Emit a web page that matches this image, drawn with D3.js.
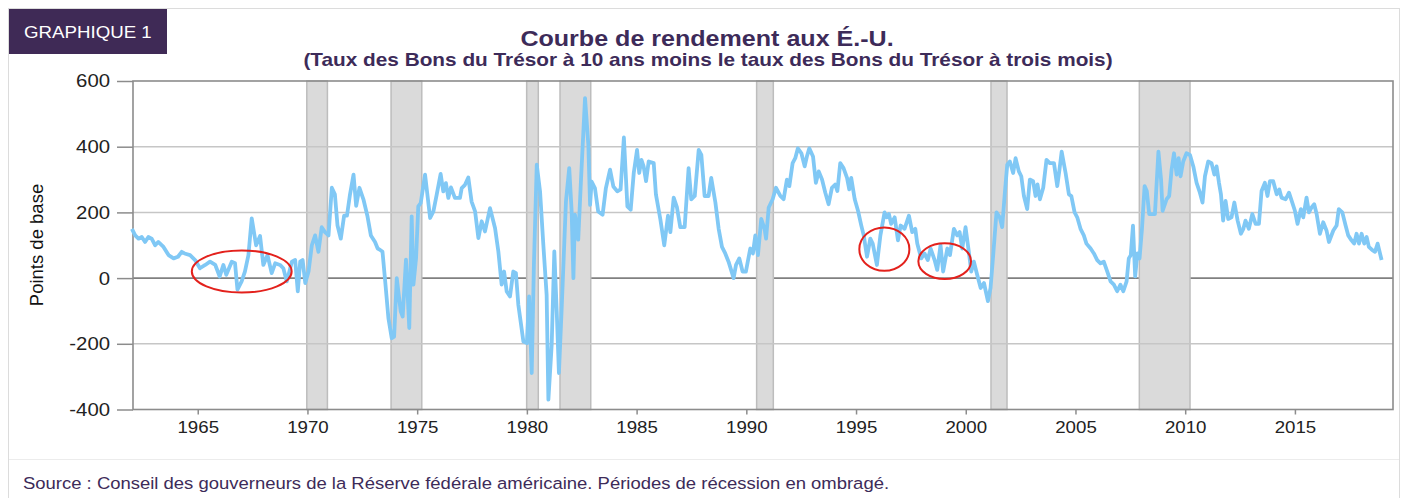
<!DOCTYPE html>
<html>
<head>
<meta charset="utf-8">
<script src="https://cdn.jsdelivr.net/npm/d3@7"></script>
<style>
  body { margin: 0; background: #fff; }
  text { font-family: "Liberation Sans", Arial, sans-serif; }
</style>
</head>
<body>
<svg id="chart" width="1408" height="498"></svg>
<script>
// valeurs (points de base)
const xTicks = [1965, 1970, 1975, 1980, 1985, 1990, 1995, 2000, 2005, 2010, 2015]
const yTicks = [-400, -200, 0, 200, 400, 600]

// périodes de récession (années décimales)
const recessions = [
  [1969.97, 1970.91], [1973.81, 1975.21], [1979.99, 1980.52], [1981.51, 1982.91],
  [1990.47, 1991.23], [2001.15, 2001.88], [2007.91, 2010.22]
]

// ellipses rouges : [année début, année fin, haut, bas]
const highlights = [
  [1964.73, 1969.28, 84, -44],
  [1995.15, 1997.43, 154, 22],
  [1997.84, 2000.24, 106, -3]
]

// écart 10 ans - 3 mois : [année, points de base]
const spread = [
  [1962.0,150],[1962.15,130],[1962.3,120],[1962.45,125],[1962.6,110],[1962.75,125],[1962.9,120],
  [1963.06,100],[1963.2,110],[1963.44,95],[1963.67,70],[1963.9,60],[1964.1,65],[1964.27,80],
  [1964.4,75],[1964.65,70],[1964.88,55],[1965.1,30],[1965.34,40],[1965.56,50],[1965.8,40],
  [1966.0,5],[1966.17,40],[1966.3,10],[1966.55,50],[1966.7,45],[1966.81,-35],[1967.0,-10],
  [1967.15,20],[1967.31,70],[1967.46,182],[1967.66,100],[1967.84,128],[1967.99,40],[1968.18,70],
  [1968.37,15],[1968.53,45],[1968.75,40],[1968.9,30],[1969.06,-10],[1969.29,50],[1969.44,55],
  [1969.56,-40],[1969.67,50],[1969.78,55],[1969.9,-15],[1970.05,20],[1970.2,100],[1970.35,130],
  [1970.5,80],[1970.65,155],[1970.8,140],[1970.96,130],[1971.11,275],[1971.25,255],[1971.37,160],
  [1971.52,120],[1971.67,190],[1971.8,190],[1971.94,255],[1972.1,315],[1972.22,220],[1972.37,275],
  [1972.55,240],[1972.73,190],[1972.89,130],[1973.08,110],[1973.2,90],[1973.31,86],[1973.42,80],
  [1973.53,0],[1973.69,-122],[1973.84,-183],[1973.95,-178],[1974.07,0],[1974.25,-101],[1974.34,-117],
  [1974.49,56],[1974.64,-152],[1974.75,188],[1974.83,-20],[1974.95,61],[1975.05,218],[1975.16,228],
  [1975.36,315],[1975.59,183],[1975.74,203],[1975.89,254],[1976.07,317],[1976.19,264],[1976.31,289],
  [1976.42,244],[1976.54,276],[1976.72,244],[1976.95,244],[1977.03,274],[1977.18,284],[1977.33,306],
  [1977.48,233],[1977.64,203],[1977.79,122],[1977.94,173],[1978.09,142],[1978.32,213],[1978.55,152],
  [1978.7,81],[1978.85,-20],[1978.96,20],[1979.08,-41],[1979.23,-56],[1979.38,20],[1979.5,15],
  [1979.61,-81],[1979.84,-193],[1980.0,-198],[1980.1,-56],[1980.22,-289],[1980.32,41],[1980.45,345],
  [1980.6,264],[1980.75,101],[1980.9,-51],[1980.98,-370],[1981.13,-203],[1981.25,81],[1981.36,-101],
  [1981.46,-289],[1981.58,-101],[1981.78,233],[1981.93,335],[1982.04,203],[1982.12,0],[1982.19,193],
  [1982.34,117],[1982.47,305],[1982.65,548],[1982.8,406],[1982.88,223],[1982.95,294],[1983.1,274],
  [1983.25,203],[1983.45,193],[1983.6,274],[1983.79,330],[1983.94,279],[1984.12,264],[1984.27,270],
  [1984.42,428],[1984.58,218],[1984.73,208],[1984.87,320],[1985.02,390],[1985.12,320],[1985.22,360],
  [1985.32,340],[1985.43,295],[1985.55,355],[1985.78,350],[1985.88,255],[1986.08,180],[1986.26,100],
  [1986.43,190],[1986.54,140],[1986.69,245],[1986.84,215],[1986.99,155],[1987.19,155],[1987.37,335],
  [1987.49,240],[1987.65,250],[1987.83,390],[1987.95,375],[1988.1,250],[1988.28,250],[1988.4,305],
  [1988.59,230],[1988.74,150],[1988.89,95],[1989.04,75],[1989.19,50],[1989.42,0],[1989.53,40],
  [1989.68,60],[1989.83,20],[1989.98,20],[1990.18,90],[1990.3,75],[1990.41,130],[1990.53,70],
  [1990.68,180],[1990.83,150],[1990.9,120],[1991.02,215],[1991.2,240],[1991.35,275],[1991.55,250],
  [1991.7,240],[1991.85,300],[1991.96,280],[1992.11,350],[1992.23,365],[1992.35,395],[1992.51,380],
  [1992.66,340],[1992.76,370],[1992.87,395],[1993.04,370],[1993.17,290],[1993.3,325],[1993.45,300],
  [1993.6,260],[1993.75,225],[1993.9,275],[1994.05,285],[1994.15,265],[1994.28,350],[1994.43,335],
  [1994.59,305],[1994.69,270],[1994.78,305],[1994.94,240],[1995.09,205],[1995.24,160],[1995.35,130],
  [1995.5,65],[1995.65,120],[1995.76,105],[1995.95,40],[1996.11,130],[1996.3,200],[1996.4,185],
  [1996.5,195],[1996.6,165],[1996.76,185],[1996.91,115],[1997.03,160],[1997.21,150],[1997.41,190],
  [1997.56,140],[1997.7,150],[1997.79,105],[1997.97,60],[1998.12,75],[1998.27,55],[1998.4,90],
  [1998.58,55],[1998.7,25],[1998.85,100],[1998.97,20],[1999.16,90],[1999.28,70],[1999.46,150],
  [1999.61,130],[1999.72,140],[1999.84,90],[1999.99,155],[2000.14,80],[2000.25,20],[2000.37,50],
  [2000.52,10],[2000.68,-30],[2000.83,-15],[2001.01,-70],[2001.13,-30],[2001.25,70],[2001.4,200],
  [2001.55,185],[2001.66,155],[2001.77,250],[2001.89,345],[2002.01,355],[2002.16,320],[2002.27,365],
  [2002.42,325],[2002.53,310],[2002.65,250],[2002.8,210],[2002.92,300],[2003.07,295],[2003.18,250],
  [2003.27,285],[2003.38,240],[2003.53,275],[2003.68,360],[2003.83,350],[2004.02,350],[2004.17,280],
  [2004.27,330],[2004.37,385],[2004.55,320],[2004.7,255],[2004.81,250],[2004.96,200],[2005.08,185],
  [2005.23,150],[2005.38,130],[2005.5,105],[2005.69,90],[2005.84,75],[2005.99,55],[2006.14,45],
  [2006.29,50],[2006.45,20],[2006.6,-10],[2006.75,-20],[2006.9,-40],[2007.05,-20],[2007.18,-40],
  [2007.33,-10],[2007.43,60],[2007.52,70],[2007.62,160],[2007.72,5],[2007.82,75],[2007.92,60],
  [2008.03,150],[2008.15,280],[2008.25,265],[2008.36,195],[2008.62,195],[2008.78,385],[2008.9,300],
  [2008.97,205],[2009.15,240],[2009.27,250],[2009.38,330],[2009.49,380],[2009.61,315],[2009.7,365],
  [2009.79,310],[2009.91,355],[2010.06,380],[2010.22,375],[2010.37,340],[2010.52,290],[2010.67,260],
  [2010.79,230],[2010.9,310],[2011.05,355],[2011.2,350],[2011.33,315],[2011.43,340],[2011.54,290],
  [2011.63,255],[2011.73,175],[2011.84,235],[2011.96,180],[2012.11,185],[2012.24,230],[2012.39,175],
  [2012.54,135],[2012.65,150],[2012.75,175],[2012.9,150],[2013.06,195],[2013.21,165],[2013.36,165],
  [2013.48,265],[2013.63,290],[2013.75,250],[2013.86,295],[2014.01,295],[2014.17,255],[2014.29,270],
  [2014.39,245],[2014.58,240],[2014.73,260],[2014.88,230],[2015.0,205],[2015.12,165],[2015.27,210],
  [2015.38,185],[2015.53,245],[2015.64,200],[2015.76,215],[2015.88,225],[2015.99,195],[2016.14,135],
  [2016.29,170],[2016.44,145],[2016.55,110],[2016.75,145],[2016.9,160],[2017.0,210],[2017.16,200],
  [2017.31,160],[2017.43,130],[2017.58,115],[2017.7,105],[2017.81,135],[2017.92,105],[2018.04,135],
  [2018.16,105],[2018.27,125],[2018.37,95],[2018.53,85],[2018.65,80],[2018.77,105],[2018.95,55]
]

const svg = d3.select("#chart")
const purple = "#3d2b59"
const SX = 1.1   // les textes de l'original sont un peu étirés en largeur

const x = d3.scaleLinear().domain([1962.05, 2019.47]).range([133, 1393])
const y = d3.scaleLinear().domain([-400, 600]).range([409.5, 81])

function label(px, py, str, size, opts = {}) {
  return svg.append("text")
    .attr("transform", `translate(${px},${py}) scale(${SX},1)`)
    .attr("font-size", size)
    .attr("font-weight", opts.bold ? "bold" : null)
    .attr("text-anchor", opts.anchor || "start")
    .attr("fill", opts.fill || "#111")
    .text(str)
}

// cadre général
svg.append("rect").attr("x", 8.5).attr("y", 8.5).attr("width", 1391).attr("height", 500)
  .attr("fill", "none").attr("stroke", "#dcdcdc")
svg.append("line").attr("x1", 9).attr("x2", 1399).attr("y1", 459.5).attr("y2", 459.5)
  .attr("stroke", "#ececec")

// étiquette GRAPHIQUE 1
svg.append("rect").attr("x", 9).attr("y", 9).attr("width", 158).attr("height", 45).attr("fill", "#3f2a56")
label(24, 38, "GRAPHIQUE 1", 17, { fill: "#fff" })

label(707, 46, "Courbe de rendement aux É.-U.", 22.8, { bold: true, anchor: "middle", fill: purple })
label(708, 66, "(Taux des Bons du Trésor à 10 ans moins le taux des Bons du Trésor à trois mois)", 18.9,
  { bold: true, anchor: "middle", fill: purple })

// ligne zéro sous les bandes
svg.append("line").attr("x1", x.range()[0]).attr("x2", x.range()[1])
  .attr("y1", y(0)).attr("y2", y(0)).attr("stroke", "#808080").attr("stroke-width", 1.6)

// récessions
svg.append("g").selectAll("rect").data(recessions).join("rect")
  .attr("x", d => x(d[0])).attr("width", d => x(d[1]) - x(d[0]))
  .attr("y", y(600)).attr("height", y(-400) - y(600))
  .attr("fill", "#dadada").attr("stroke", "#bdbdbd").attr("stroke-width", 1.5)

// grille
svg.append("g").selectAll("line").data(yTicks.filter(d => d !== 0 && d !== 600 && d !== -400)).join("line")
  .attr("x1", x.range()[0]).attr("x2", x.range()[1])
  .attr("y1", d => y(d)).attr("y2", d => y(d))
  .attr("stroke", "#c6c6c6").attr("stroke-width", 1.5)

// axes
const yAxis = d3.axisLeft(y).tickValues(yTicks).tickFormat(d => String(d)).tickSize(16)
const gy = svg.append("g").attr("transform", `translate(${x.range()[0]},0)`).call(yAxis)
gy.select(".domain").remove()
gy.selectAll(".tick line").attr("stroke", "#8c8c8c").attr("stroke-width", 1.5)
gy.selectAll(".tick text").attr("font-size", 18.5).attr("fill", "#222")
  .attr("font-family", "'Liberation Sans', Arial, sans-serif")
  .attr("x", -23 / SX).attr("transform", `scale(${SX},1)`)

const xAxis = d3.axisBottom(x).tickValues(xTicks).tickFormat(d3.format("d")).tickSize(5).tickPadding(6)
const gx = svg.append("g").attr("transform", `translate(0,${y(-400)})`).call(xAxis)
gx.select(".domain").remove()
gx.selectAll(".tick line").attr("stroke", "#8c8c8c").attr("stroke-width", 1.5)
gx.selectAll(".tick text").attr("font-size", 17).attr("fill", "#222")
  .attr("font-family", "'Liberation Sans', Arial, sans-serif")
  .attr("transform", `scale(${SX},1)`)

svg.append("rect").attr("x", x.range()[0]).attr("y", y(600))
  .attr("width", x.range()[1] - x.range()[0]).attr("height", y(-400) - y(600))
  .attr("fill", "none").attr("stroke", "#8c8c8c").attr("stroke-width", 1.6)

svg.append("text").attr("transform", `translate(43,245) rotate(-90)`)
  .attr("text-anchor", "middle").attr("font-size", 18.5).attr("fill", "#111")
  .text("Points de base")

// série
const line = d3.line().x(d => x(d[0])).y(d => y(d[1]))
svg.append("path").datum(spread).attr("d", line)
  .attr("fill", "none").attr("stroke", "#80c8f5").attr("stroke-width", 3.8)
  .attr("stroke-linejoin", "round")

// ellipses de mise en évidence
svg.append("g").selectAll("ellipse").data(highlights).join("ellipse")
  .attr("cx", d => (x(d[0]) + x(d[1])) / 2).attr("cy", d => (y(d[2]) + y(d[3])) / 2)
  .attr("rx", d => (x(d[1]) - x(d[0])) / 2).attr("ry", d => (y(d[3]) - y(d[2])) / 2)
  .attr("fill", "none").attr("stroke", "#e3211c").attr("stroke-width", 2)

label(23, 489, "Source : Conseil des gouverneurs de la Réserve fédérale américaine. Périodes de récession en ombragé.",
  16.8, { fill: purple })
</script>
</body>
</html>
